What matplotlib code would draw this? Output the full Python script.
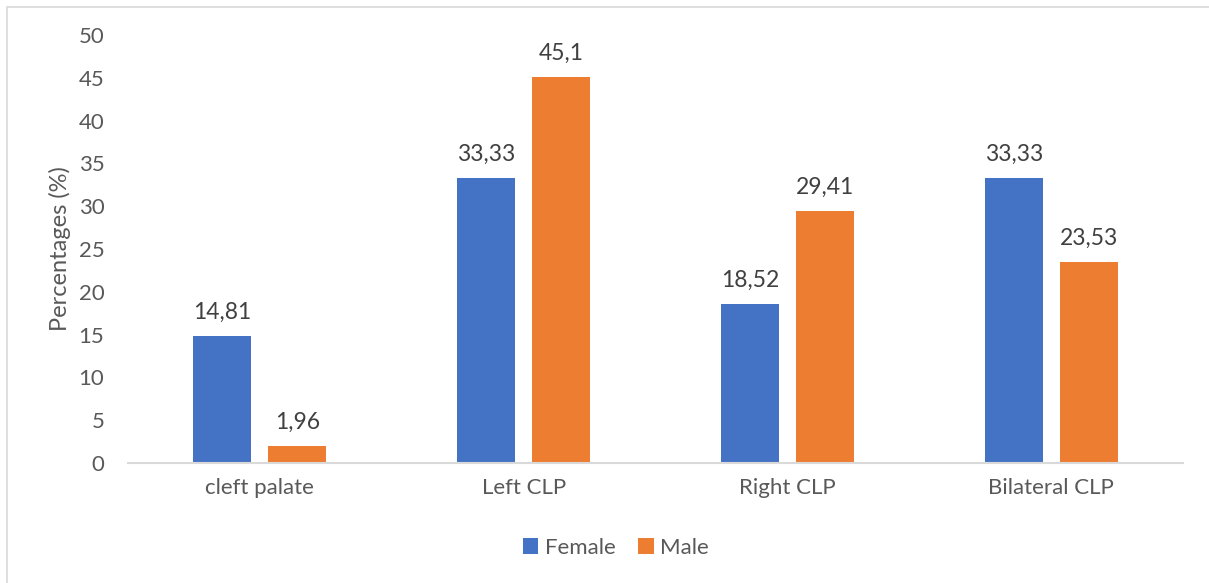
import matplotlib

matplotlib.use("Agg")
import matplotlib.pyplot as plt
from matplotlib.patches import Rectangle
import numpy as np

# dados
categorias = ["cleft palate", "Left CLP", "Right CLP", "Bilateral CLP"]
feminino = [14.81, 33.33, 18.52, 33.33]
masculino = [1.96, 45.1, 29.41, 23.53]
yticks = [0, 5, 10, 15, 20, 25, 30, 35, 40, 45, 50]

COR_F = "#4472C4"
COR_M = "#ED7D31"
COR_TEXTO = "#595959"
COR_GRADE = "#D9D9D9"

plt.rcParams["font.family"] = ["Lato", "DejaVu Sans"]

fig = plt.figure(figsize=(12.09, 5.83), dpi=100)
ax = fig.add_axes([128 / 1209, 1 - 463 / 583, 1055 / 1209, (463 - 35) / 583])

# moldura do gráfico (estilo Excel)
fig.patches.append(Rectangle((7 / 1209, -0.1), 1.2, 1 - 7 / 583 + 0.1,
                             transform=fig.transFigure, fill=False,
                             edgecolor=COR_GRADE, linewidth=1.2))

x = np.arange(len(categorias))
largura = 0.22
desloc = 0.142
b1 = ax.bar(x - desloc, feminino, largura, color=COR_F, label="Female")
b2 = ax.bar(x + desloc, masculino, largura, color=COR_M, label="Male")

fmt = lambda v: f"{v:g}".replace(".", ",")
ax.bar_label(b1, labels=[fmt(v) for v in feminino], padding=9.5,
             fontsize=16.5, color="#404040")
ax.bar_label(b2, labels=[fmt(v) for v in masculino], padding=9.5,
             fontsize=16.5, color="#404040")

ax.set_xlim(-0.5, len(categorias) - 0.5)
ax.set_ylim(0, 50)
ax.set_yticks(yticks)
ax.set_xticks(x)
ax.set_xticklabels(categorias)
ax.tick_params(axis="both", length=0, labelsize=16, colors=COR_TEXTO)
ax.tick_params(axis="y", pad=17)
ax.tick_params(axis="x", pad=11)

for lado in ("top", "right", "left"):
    ax.spines[lado].set_visible(False)
ax.spines["bottom"].set_color(COR_GRADE)
ax.spines["bottom"].set_linewidth(1.5)

ax.set_ylabel("Percentages (%)", fontsize=17, color=COR_TEXTO)
ax.yaxis.set_label_coords(-0.054, 0.5)

fig.legend(loc="center", bbox_to_anchor=(616 / 1209, 1 - 548 / 583), ncol=2,
           frameon=False, fontsize=16, handlelength=0.7, handleheight=0.7,
           handletextpad=0.3, columnspacing=1.0, labelcolor=COR_TEXTO)

fig.savefig("out.png", dpi=100, facecolor="white")
